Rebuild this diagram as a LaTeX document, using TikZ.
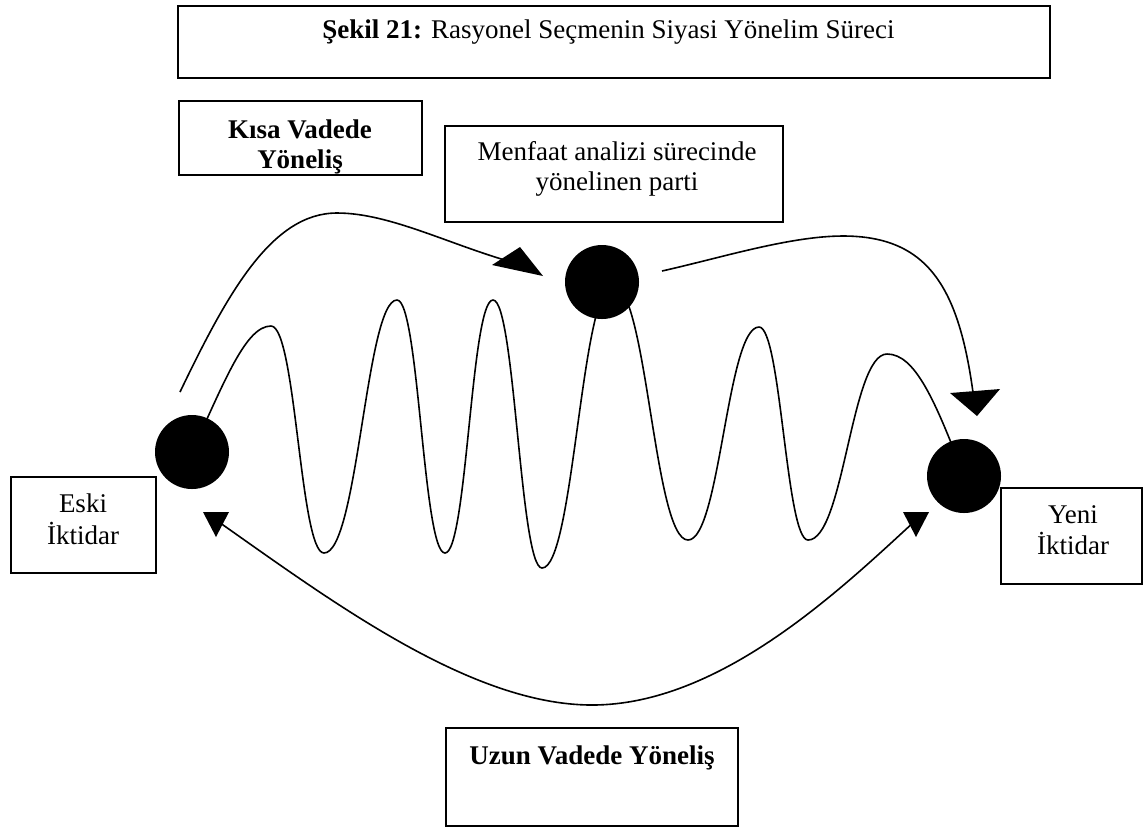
\documentclass[tikz,border=0pt]{standalone}
\usepackage{fontspec}
\setmainfont{Liberation Serif}
\begin{document}
\begin{tikzpicture}[x=0.5pt,y=-0.5pt,
  frame/.style={draw, rectangle, line width=0.85pt, inner sep=0pt},
  txt/.style={anchor=base, inner sep=0pt, font=\fontsize{13.5}{15}\selectfont},
  btxt/.style={anchor=base, inner sep=0pt, font=\fontsize{13.5}{15}\selectfont\bfseries},
  dot/.style={circle, fill=black, minimum size=37pt, inner sep=0pt},
  curve/.style={draw, line width=0.8pt},
  head/.style={fill=black}]
\fill[white] (0,0) rectangle (1143,827);
\useasboundingbox (0,0) rectangle (1143,827);

% boxes
\node[frame, minimum width=436pt, minimum height=36pt] (titlebox) at (614,42) {};
\node[frame, minimum width=121.5pt, minimum height=37pt] (kisabox) at (300.5,138) {};
\node[frame, minimum width=169pt, minimum height=48pt] (menfbox) at (614,174) {};
\node[frame, minimum width=72.5pt, minimum height=48pt] (eskibox) at (83.5,525) {};
\node[frame, minimum width=70.5pt, minimum height=48pt] (yenibox) at (1071.5,536) {};
\node[frame, minimum width=146pt, minimum height=49pt] (uzunbox) at (592,777) {};

% texts
\node[txt] (titletext) at (608.5,38) {\textbf{Şekil 21:} Rasyonel Seçmenin Siyasi Yönelim Süreci};
\node[btxt] (kisa1) at (300,138) {Kısa Vadede};
\node[btxt] (kisa2) at (300,168) {Yöneliş};
\node[txt] (menf1) at (617,160) {Menfaat analizi sürecinde};
\node[txt] (menf2) at (617,190) {yönelinen parti};
\node[txt] (eski1) at (83,512) {Eski};
\node[txt] (eski2) at (83,544) {İktidar};
\node[txt] (yeni1) at (1073,523) {Yeni};
\node[txt] (yeni2) at (1073,554) {İktidar};
\node[btxt] (uzun) at (592,764) {Uzun Vadede Yöneliş};

% circle centres
\coordinate (p1) at (192,452);
\coordinate (p2) at (602,282);
\coordinate (p3) at (964,476);

% wave
\path[curve] (p1) .. controls (225,380) and (246,326) .. (271,326)
 .. controls (296,326) and (300,553) .. (324,553)
 .. controls (358,553) and (366,300) .. (397,300)
 .. controls (419,300) and (423,553) .. (445,553)
 .. controls (467,553) and (471,300) .. (493,300)
 .. controls (515,300) and (520,568) .. (542,568)
 .. controls (574,568) and (581,285) .. (613,285)
 .. controls (647,285) and (654,540) .. (688,540)
 .. controls (720,540) and (727,327) .. (759,327)
 .. controls (781,327) and (786,540) .. (808,540)
 .. controls (844,540) and (851,354) .. (887,354)
 .. controls (915,354) and (935,400) .. (p3);

% dots
\node[dot] (c1) at (p1) {};
\node[dot] (c2) at (p2) {};
\node[dot] (c3) at (p3) {};

% short-term arrow: old -> party
\coordinate (s1) at (180,392);
\coordinate (e1) at (515,263);
\path[curve] (s1) .. controls (228,292) and (272,213) .. (337,213)
 .. controls (390,213) and (450,245) .. (e1);
\fill[head] (492,265) -- (520,247) -- (543,276) -- cycle;

% party -> new
\coordinate (s2) at (662,271);
\coordinate (e2) at (974,400);
\path[curve] (s2) .. controls (720,258) and (790,236) .. (843,236)
 .. controls (930,236) and (960,290) .. (e2);
\fill[head] (950,393) -- (1000,389) -- (977,416) -- cycle;

% long-term two-way arrow
\coordinate (b1) at (216,520);
\coordinate (b2) at (916,520);
\path[curve] (b1) .. controls (330,600) and (470,705) .. (592,705)
 .. controls (720,705) and (840,590) .. (b2);
\fill[head] (203,512) -- (229,512) -- (216,537) -- cycle;
\fill[head] (903,512) -- (929,512) -- (916,537) -- cycle;
\end{tikzpicture}
\end{document}
